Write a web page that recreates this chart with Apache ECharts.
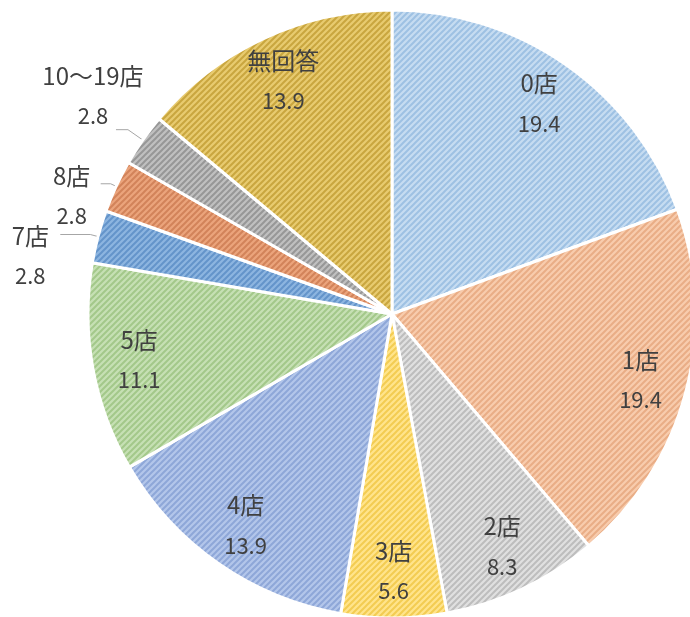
<!DOCTYPE html>
<html>
<head>
<meta charset="utf-8">
<script src="https://cdn.jsdelivr.net/npm/echarts@6/dist/echarts.min.js"></script>
<style>
html,body{margin:0;padding:0;background:#fff;}
#chart{width:690px;height:617px;}
</style>
</head>
<body>
<div id="chart"></div>
<script>
const categories = ['0店', '1店', '2店', '3店', '4店', '5店', '7店', '8店', '10～19店', '無回答'];
const values = [19.4, 19.4, 8.3, 5.6, 13.9, 11.1, 2.8, 2.8, 2.8, 13.9];
const outsideLabels = ['7店', '8店', '10～19店'];

const bgColors = ['#C6DCF1', '#F8CCAD', '#E0E0E0', '#FFE48C', '#B3C6EA', '#C6E0B4', '#8DB5E0', '#EBA47C', '#C0C0C0', '#E8CB70'];
const lineColors = ['#9EC1E3', '#E9AD86', '#BDBDBD', '#F3CC52', '#8EA7D8', '#A3C88A', '#6494CA', '#D2835A', '#979797', '#C9A63F'];

const labelTweaks = {
  '7店': { line: [8, 30], dx: -25, dy: 21 },
  '8店': { line: [6, 10], dx: -24, dy: 12 },
  '10～19店': { line: [18, 12], dx: -18, dy: -34 }
};

function makePattern(bg, fg) {
  const s = 6;
  const c = document.createElement('canvas');
  c.width = s; c.height = s;
  const ctx = c.getContext('2d');
  ctx.fillStyle = bg;
  ctx.fillRect(0, 0, s, s);
  ctx.strokeStyle = fg;
  ctx.lineWidth = 2;
  ctx.beginPath();
  ctx.moveTo(0, s); ctx.lineTo(s, 0);
  ctx.moveTo(-1, 1); ctx.lineTo(1, -1);
  ctx.moveTo(s - 1, s + 1); ctx.lineTo(s + 1, s - 1);
  ctx.stroke();
  return { image: c, repeat: 'repeat' };
}

const font = '"Noto Sans CJK JP", "Noto Sans", sans-serif';
const textColor = '#404040';
const richStyles = {
  n: { fontFamily: font, fontSize: 24, lineHeight: 40, color: textColor },
  v: { fontFamily: font, fontSize: 22, lineHeight: 40, color: textColor }
};
const fmt = p => '{n|' + p.name + '}\n{v|' + p.value + '}';

const mainData = categories.map((name, i) => {
  const isOut = outsideLabels.indexOf(name) >= 0;
  const item = {
    name: name,
    value: values[i],
    itemStyle: { color: makePattern(bgColors[i], lineColors[i]) },
    label: { show: isOut }
  };
  if (isOut) {
    item.labelLine = { show: true, length: labelTweaks[name].line[0], length2: labelTweaks[name].line[1] };
  }
  return item;
});

const ringData = categories.map((name, i) => ({
  name: name,
  value: values[i],
  label: { show: outsideLabels.indexOf(name) < 0 }
}));

const chart = echarts.init(document.getElementById('chart'), null, { renderer: 'canvas' });
chart.setOption({
  backgroundColor: '#ffffff',
  animation: false,
  series: [
    {
      type: 'pie',
      center: [392, 314],
      radius: 304,
      startAngle: 90,
      clockwise: true,
      avoidLabelOverlap: false,
      silent: true,
      itemStyle: { borderColor: '#ffffff', borderWidth: 3 },
      label: {
        position: 'outside',
        alignTo: 'none',
        formatter: fmt,
        rich: richStyles
      },
      labelLine: { lineStyle: { color: '#A6A6A6', width: 1 } },
      labelLayout: function (params) {
        const name = categories[params.dataIndex];
        const t = labelTweaks[name];
        if (!t) return {};
        return { dx: t.dx, dy: t.dy, align: 'center' };
      },
      data: mainData
    },
    {
      type: 'pie',
      center: [392, 314],
      radius: [226, 282],
      startAngle: 90,
      clockwise: true,
      avoidLabelOverlap: false,
      silent: true,
      itemStyle: { color: 'rgba(0,0,0,0)', borderWidth: 0 },
      label: {
        position: 'inside',
        formatter: fmt,
        rich: richStyles
      },
      labelLine: { show: false },
      data: ringData
    }
  ]
});
</script>
</body>
</html>
